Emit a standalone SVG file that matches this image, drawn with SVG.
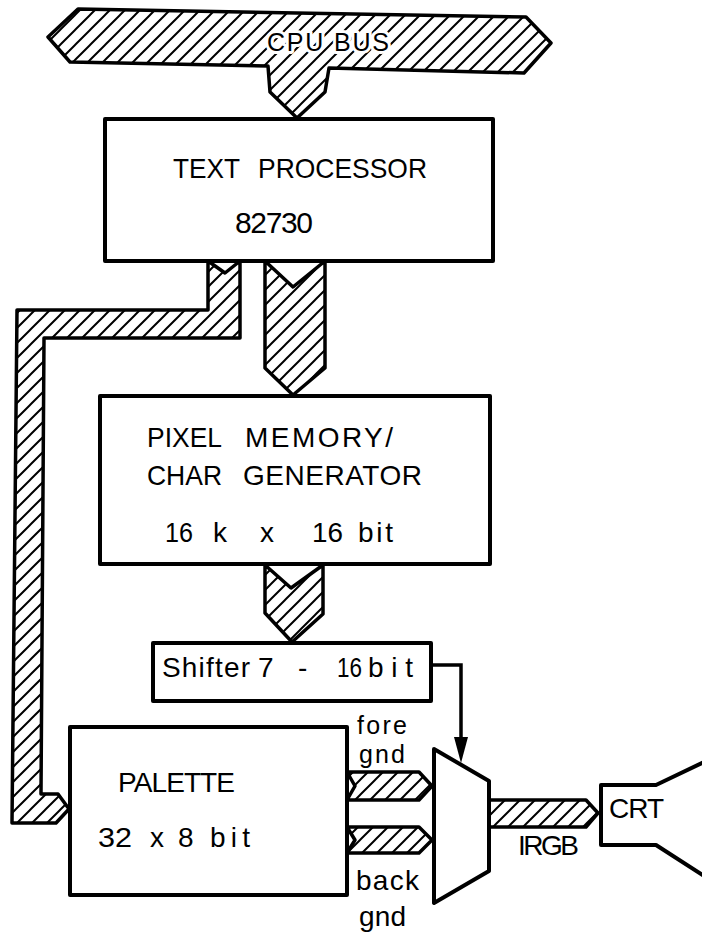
<svg xmlns="http://www.w3.org/2000/svg" width="702" height="934" viewBox="0 0 702 934">
<defs>
<pattern id="hatch" patternUnits="userSpaceOnUse" width="15" height="15">
<path d="M0,15 L15,0 M-4,4 L4,-4 M11,19 L19,11" stroke="#000" stroke-width="2" fill="none"/>
</pattern>
</defs>
<style>
.box{fill:#fff;stroke:#000;stroke-width:4;stroke-linejoin:round}
.bus{fill:url(#hatch);stroke:#000;stroke-width:3.5;stroke-linejoin:round}
.wire{fill:none;stroke:#000;stroke-width:3.5}
.t{font-family:"Liberation Sans",Arial,sans-serif;font-size:28px;fill:#000}
.halo{stroke:#fff;stroke-width:6px;paint-order:stroke;stroke-linejoin:round}
</style>
<rect width="702" height="934" fill="#fff"/>
<g id="connectors">
<polygon id="cpu-bus" class="bus" points="48,37 78,9 526,17 551,43 524,73 329,68 325,92 297,118 270,92 268,66 70,62"/>
<polygon id="bus-tp-palette" class="bus" points="208,261 225,273 240,261 240,338 44,338 41,794 58,794 69,809 56,823 12,823 17,310 208,310"/>
<polygon id="bus-tp-pm" class="bus" points="265,261 293,287 325,261 325,368 293,395 265,368"/>
<polygon id="bus-pm-shifter" class="bus" points="265,565 291,588 323,565 323,614 292,642 265,613"/>
<polygon id="bus-fore" class="bus" points="347,772 419,772 432,786 419,800 347,800 355,786"/>
<polygon id="bus-back" class="bus" points="347,827 419,827 432,840 419,853 347,853 355,840"/>
<polygon id="bus-irgb" class="bus" points="489,800 586,800 598,813 586,827 489,827"/>
<path class="wire" d="M431,665 H461 V742"/>
<polygon points="454,737 468,737 461,763" fill="#000"/>
<text class="t halo" x="267" y="51" style="font-size:25px" textLength="122" lengthAdjust="spacing">CPU BUS</text>
</g>
<g id="text-processor">
<rect class="box" x="105" y="119" width="388" height="142"/>
<text class="t" x="173" y="178" textLength="67" lengthAdjust="spacingAndGlyphs">TEXT</text>
<text class="t" x="258" y="178" textLength="169" lengthAdjust="spacingAndGlyphs">PROCESSOR</text>
<text class="t" x="235" y="233" style="font-size:30px" textLength="78" lengthAdjust="spacing">82730</text>
</g>
<g id="pixel-memory">
<rect class="box" x="100" y="396" width="390" height="168"/>
<text class="t" x="147" y="447" textLength="75" lengthAdjust="spacingAndGlyphs">PIXEL</text>
<text class="t" x="245" y="447" textLength="148" lengthAdjust="spacing">MEMORY/</text>
<text class="t" x="147" y="485" textLength="75" lengthAdjust="spacingAndGlyphs">CHAR</text>
<text class="t" x="243" y="485" textLength="179" lengthAdjust="spacing">GENERATOR</text>
<text class="t" x="165" y="542" textLength="28" lengthAdjust="spacingAndGlyphs">16</text>
<text class="t" x="213" y="542">k</text>
<text class="t" x="260" y="542">x</text>
<text class="t" x="312" y="542" textLength="31" lengthAdjust="spacingAndGlyphs">16</text>
<text class="t" x="358" y="542" textLength="35" lengthAdjust="spacing">bit</text>
</g>
<g id="shifter">
<rect class="box" x="153" y="643" width="278" height="58"/>
<text class="t" x="162" y="677" textLength="88" lengthAdjust="spacing">Shifter</text>
<text class="t" x="258" y="677">7</text>
<text class="t" x="298" y="677">-</text>
<text class="t" x="337" y="677" textLength="25" lengthAdjust="spacingAndGlyphs">16</text>
<text class="t" x="368" y="677" textLength="45" lengthAdjust="spacing">bit</text>
</g>
<g id="palette">
<rect class="box" x="70" y="727" width="277" height="168"/>
<text class="t" x="118" y="792" textLength="117" lengthAdjust="spacing">PALETTE</text>
<text class="t" x="98" y="847" textLength="34" lengthAdjust="spacingAndGlyphs">32</text>
<text class="t" x="150" y="847">x</text>
<text class="t" x="178" y="847">8</text>
<text class="t" x="210" y="847" textLength="40" lengthAdjust="spacing">bit</text>
</g>
<g id="labels">
<text class="t" x="357" y="734" style="font-size:25px" textLength="50" lengthAdjust="spacing">fore</text>
<text class="t" x="359" y="763" style="font-size:25px" textLength="46" lengthAdjust="spacing">gnd</text>
<text class="t" x="356" y="890" textLength="63" lengthAdjust="spacing">back</text>
<text class="t" x="359" y="926" textLength="47" lengthAdjust="spacing">gnd</text>
<text class="t" x="518" y="855" textLength="61" lengthAdjust="spacing">IRGB</text>
</g>
<g id="mux">
<polygon class="box" points="434,749 489,781 489,871 434,903"/>
</g>
<g id="crt">
<polyline points="704,762 656,785 601,785 601,845 656,845 704,876" fill="none" stroke="#000" stroke-width="4" stroke-linejoin="round"/>
<text class="t" x="609" y="818" textLength="55" lengthAdjust="spacing">CRT</text>
</g>
</svg>
